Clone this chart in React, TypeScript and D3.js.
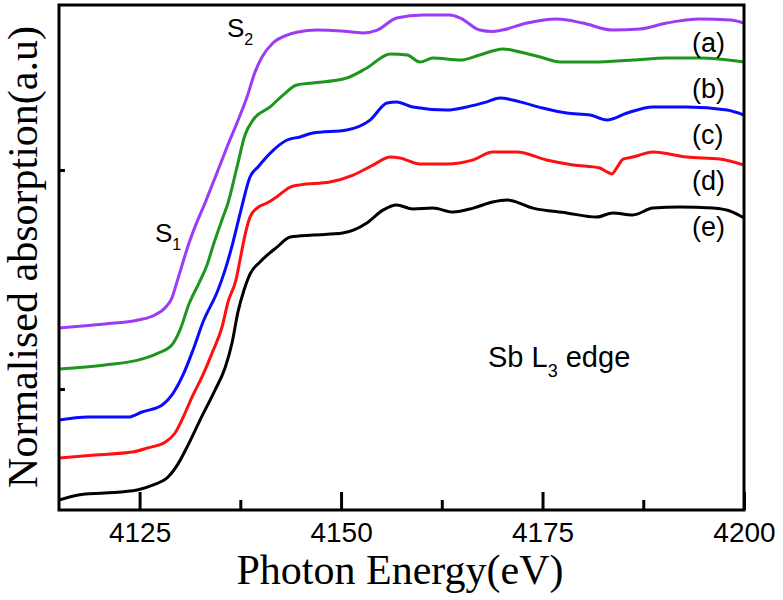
import React, { useEffect, useRef } from 'react';
import * as d3 from 'd3';

// photon energy (eV) and normalised absorption (a.u., stacked with offsets) for each sample
const energyA = [4115, 4120.7, 4124.8, 4126.9, 4128.15, 4129.02, 4129.64, 4130.39, 4131.01, 4132.12, 4133.12, 4134.11, 4134.98, 4135.85, 4137.09, 4138.33, 4139.32, 4140.19, 4141.55, 4143.29, 4144.66, 4147.0, 4150.0, 4152.7, 4154.5, 4156.9, 4160.2, 4163.5, 4164.8, 4167.2, 4168.8, 4170.0, 4173.1, 4176.8, 4180.0, 4183.7, 4187.1, 4190.4, 4194.5, 4198.3, 4200];
const absA = [1.279, 1.297, 1.315, 1.338, 1.370, 1.416, 1.489, 1.580, 1.653, 1.763, 1.849, 1.941, 2.023, 2.105, 2.215, 2.333, 2.447, 2.516, 2.580, 2.616, 2.630, 2.639, 2.635, 2.626, 2.639, 2.694, 2.708, 2.708, 2.694, 2.639, 2.632, 2.639, 2.671, 2.689, 2.671, 2.639, 2.644, 2.671, 2.689, 2.685, 2.671];

const energyB = [4115, 4120.7, 4124.8, 4127.3, 4129.0, 4130.01, 4131.13, 4132.37, 4133.37, 4134.11, 4135.35, 4135.97, 4137.09, 4138.08, 4139.07, 4141.2, 4142.8, 4144.5, 4146.5, 4150.7, 4153.2, 4156.1, 4158.2, 4159.8, 4161.4, 4164.8, 4167.2, 4170.1, 4172.2, 4174.7, 4177.2, 4181.3, 4186.2, 4190.4, 4194.5, 4200];
const absB = [1.091, 1.110, 1.132, 1.164, 1.201, 1.269, 1.388, 1.484, 1.566, 1.653, 1.785, 1.849, 2.014, 2.160, 2.228, 2.288, 2.342, 2.388, 2.397, 2.420, 2.466, 2.530, 2.525, 2.493, 2.511, 2.502, 2.525, 2.553, 2.539, 2.516, 2.493, 2.493, 2.502, 2.511, 2.511, 2.493];

const energyC = [4115, 4118.6, 4123.6, 4125.3, 4127.8, 4129.02, 4130.39, 4131.63, 4132.87, 4134.73, 4135.60, 4136.34, 4137.58, 4138.70, 4139.69, 4141.6, 4143.3, 4144.9, 4146.5, 4150.7, 4153.6, 4155.7, 4156.9, 4158.9, 4163.1, 4165.6, 4168.1, 4169.7, 4172.2, 4175.0, 4178.0, 4180.9, 4183.0, 4185.5, 4188.7, 4192.9, 4197.9, 4200];
const absC = [0.858, 0.872, 0.872, 0.895, 0.927, 0.973, 1.064, 1.178, 1.306, 1.452, 1.543, 1.635, 1.817, 1.968, 2.014, 2.091, 2.137, 2.151, 2.169, 2.183, 2.228, 2.306, 2.311, 2.288, 2.274, 2.288, 2.311, 2.329, 2.311, 2.283, 2.260, 2.251, 2.228, 2.260, 2.288, 2.288, 2.274, 2.251];

const energyD = [4115, 4119.5, 4124.1, 4126.0, 4128.2, 4129.4, 4130.64, 4131.50, 4132.74, 4133.99, 4135.23, 4135.97, 4136.96, 4137.46, 4138.08, 4138.70, 4139.57, 4140.81, 4142.0, 4143.7, 4144.9, 4148.6, 4151.5, 4154.0, 4156.1, 4157.3, 4159.8, 4163.1, 4166.4, 4168.8, 4171.8, 4175.5, 4178.8, 4182.1, 4183.0, 4183.6, 4184.2, 4185.0, 4186.2, 4188.7, 4192.9, 4197.0, 4200];
const absD = [0.685, 0.699, 0.712, 0.731, 0.758, 0.799, 0.890, 0.963, 1.055, 1.164, 1.283, 1.397, 1.498, 1.589, 1.703, 1.785, 1.826, 1.849, 1.877, 1.922, 1.932, 1.945, 1.977, 2.023, 2.059, 2.055, 2.027, 2.027, 2.046, 2.082, 2.082, 2.046, 2.023, 2.009, 1.991, 1.982, 2.009, 2.050, 2.059, 2.082, 2.059, 2.050, 2.023];

const energyE = [4115, 4117.4, 4120.7, 4124.7, 4126.7, 4128.53, 4129.77, 4131.01, 4132.50, 4134.36, 4135.60, 4136.47, 4137.21, 4137.96, 4138.70, 4139.94, 4142.05, 4143.7, 4146.5, 4150.2, 4153.2, 4155.2, 4156.9, 4158.9, 4161.4, 4163.9, 4166.4, 4168.8, 4170.6, 4173.8, 4178.0, 4181.7, 4183.7, 4186.2, 4188.7, 4192.0, 4196.1, 4198.6, 4200];
const absE = [0.493, 0.516, 0.525, 0.539, 0.562, 0.598, 0.658, 0.744, 0.858, 0.995, 1.096, 1.210, 1.352, 1.452, 1.525, 1.580, 1.648, 1.694, 1.703, 1.712, 1.758, 1.817, 1.840, 1.822, 1.826, 1.808, 1.826, 1.854, 1.863, 1.826, 1.804, 1.785, 1.804, 1.795, 1.826, 1.831, 1.826, 1.808, 1.781];

const seriesLabels = ['(a)', '(b)', '(c)', '(d)', '(e)'];
const seriesColors = ['#9b3cf5', '#1e961e', '#0a0aff', '#ff1010', '#000000'];

const majorTicks = [4125, 4150, 4175, 4200];
const minorTicks = [4137.5, 4162.5, 4187.5];
const yTicks = [1, 2];

const App = () => {
  const svgRef = useRef(null);

  useEffect(() => {
    const width = 783;
    const height = 600;
    const left = 59, right = 744, top = 5, bottom = 510;
    const sans = '"Liberation Sans", Arial, sans-serif';
    const serif = '"Liberation Serif", "Times New Roman", serif';

    d3.select(svgRef.current).selectAll('*').remove();
    const svg = d3.select(svgRef.current)
      .attr('width', width)
      .attr('height', height);

    const x = d3.scaleLinear().domain([4115, 4200]).range([left, right]);
    const y = d3.scaleLinear().domain([1 - 121 / 219, 2 + 165 / 219]).range([bottom, top]);

    svg.append('defs').append('clipPath').attr('id', 'plot-clip')
      .append('rect')
      .attr('x', left).attr('y', top)
      .attr('width', right - left).attr('height', bottom - top);

    const series = [
      [energyA, absA], [energyB, absB], [energyC, absC], [energyD, absD], [energyE, absE]
    ];

    const line = d3.line()
      .x(d => x(d[0]))
      .y(d => y(d[1]))
      .curve(d3.curveMonotoneX);

    const g = svg.append('g').attr('clip-path', 'url(#plot-clip)');
    series.forEach(([es, vs], i) => {
      g.append('path')
        .datum(es.map((e, j) => [e, vs[j]]))
        .attr('d', line)
        .attr('fill', 'none')
        .attr('stroke', seriesColors[i])
        .attr('stroke-width', 3)
        .attr('stroke-linejoin', 'round');
    });

    // bottom axis: inward ticks, labels below
    const xAxis = svg.append('g')
      .attr('transform', `translate(0,${bottom})`)
      .call(d3.axisBottom(x).tickValues(majorTicks).tickSizeInner(-18).tickSizeOuter(0).tickPadding(12).tickFormat(d3.format('d')));
    xAxis.select('.domain').remove();
    xAxis.selectAll('line').attr('stroke', '#000').attr('stroke-width', 3);
    xAxis.selectAll('text').attr('font-family', sans).attr('font-size', 28).attr('fill', '#000');

    const xMinor = svg.append('g')
      .attr('transform', `translate(0,${bottom})`)
      .call(d3.axisBottom(x).tickValues(minorTicks).tickSizeInner(-10).tickSizeOuter(0).tickFormat(() => ''));
    xMinor.select('.domain').remove();
    xMinor.selectAll('text').remove();
    xMinor.selectAll('line').attr('stroke', '#000').attr('stroke-width', 3);

    const yAxis = svg.append('g')
      .attr('transform', `translate(${left},0)`)
      .call(d3.axisLeft(y).tickValues(yTicks).tickSizeInner(-6).tickSizeOuter(0).tickFormat(() => ''));
    yAxis.select('.domain').remove();
    yAxis.selectAll('text').remove();
    yAxis.selectAll('line').attr('stroke', '#000').attr('stroke-width', 3);

    svg.append('rect')
      .attr('x', left).attr('y', top)
      .attr('width', right - left).attr('height', bottom - top)
      .attr('fill', 'none')
      .attr('stroke', '#000')
      .attr('stroke-width', 3);

    // axis titles
    svg.append('text')
      .attr('x', 400).attr('y', 584)
      .attr('text-anchor', 'middle')
      .attr('font-family', serif).attr('font-size', 42)
      .text('Photon Energy(eV)');

    svg.append('text')
      .attr('transform', 'translate(37,257) rotate(-90)')
      .attr('text-anchor', 'middle')
      .attr('font-family', serif).attr('font-size', 42)
      .text('Normalised absorption(a.u)');

    // series labels
    const labelY = [52, 98, 144, 190, 236];
    seriesLabels.forEach((s, i) => {
      svg.append('text')
        .attr('x', 692).attr('y', labelY[i])
        .attr('font-family', sans).attr('font-size', 27)
        .text(s);
    });

    const sub = (px, py, main, low, size, subSize, dy) => {
      const t = svg.append('text')
        .attr('x', px).attr('y', py)
        .attr('font-family', sans).attr('font-size', size);
      t.append('tspan').text(main);
      t.append('tspan').attr('font-size', subSize).attr('dy', dy).text(low);
      return t;
    };

    sub(227, 37, 'S', '2', 26, 16, 8);
    sub(155, 242, 'S', '1', 26, 16, 8);

    const sb = svg.append('text')
      .attr('x', 488).attr('y', 367)
      .attr('font-family', sans).attr('font-size', 29);
    sb.append('tspan').text('Sb L');
    sb.append('tspan').attr('font-size', 18).attr('dy', 10).text('3');
    sb.append('tspan').attr('dy', -10).text(' edge');
  }, []);

  return <svg ref={svgRef} style={{ position: 'absolute', left: 0, top: 0 }}></svg>;
};

export default App;
